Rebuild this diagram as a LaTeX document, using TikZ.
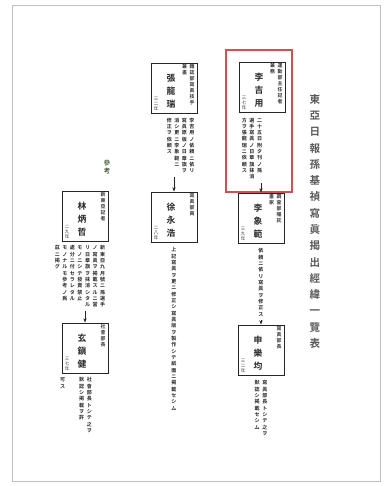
\documentclass[tikz,border=0pt]{standalone}
\usepackage{fontspec}
\setmainfont{Noto Sans CJK JP}[BoldFont={Noto Sans CJK JP Bold}]
\usetikzlibrary{positioning,arrows.meta}

% vertical column of characters, one per line
\def\vtloop#1{\ifx#1\relax\else\leavevmode#1\par\expandafter\vtloop\fi}
\newcommand\vcol[1]{\vtop{\hsize=1.5em\parindent=0pt\parskip=0pt%
  \leftskip=0pt plus 1fil\rightskip=0pt plus 1fil\parfillskip=0pt\vtloop#1\relax}}

\tikzset{
  pageframe/.style={draw=black!25, line width=0.7pt},
  hilite/.style={draw={rgb,255:red,214;green,78;blue,78}, line width=0.9pt},
  pbox/.style={draw=black!85, line width=0.8pt, minimum width=13.8mm, minimum height=15mm, inner sep=0pt},
  pname/.style={font=\fontsize{7.5}{11}\selectfont\bfseries, text=black!85, inner sep=0pt},
  prank/.style={font=\fontsize{4.2}{5}\selectfont\bfseries, text=black!80, inner sep=0pt, anchor=north east},
  pyear/.style={font=\fontsize{3.8}{4.6}\selectfont, text=black!80, inner sep=0pt, anchor=south west},
  pnote/.style={font=\fontsize{4.3}{5.4}\selectfont\bfseries, text=black!85, inner sep=0pt},
  ttl/.style={font=\fontsize{9}{13.9}\selectfont\bfseries, text=black!65, inner sep=0pt},
  sanko/.style={font=\fontsize{5.5}{7}\selectfont\bfseries, text={rgb,255:red,70;green,95;blue,60}, inner sep=0pt},
  link/.style={-{Stealth[length=1.3mm,width=1mm]}, line width=0.5pt, draw=black!85, shorten <=1mm},
}

\begin{document}
\begin{tikzpicture}[x=0.3mm, y=-0.3mm]
\useasboundingbox (0,0) rectangle (392,486);
\draw[pageframe] (12,5) rectangle (380,481);

% title
\node[ttl, anchor=north] (title) at (315,94) {\vcol{東亞日報孫基禎寫眞揭出經緯一覽表}};

% right line
\node[pbox] (kilyong) at (262,87) {};
\node[prank] (kilyongrank) at ([shift={(-1.5,2)}]kilyong.north east) {\vcol{兼務}\vcol{運動部主任記者}};
\node[pname] (kilyongname) at ([shift={(-3,3)}]kilyong.center) {\vcol{李吉用}};
\node[pyear] (kilyongage) at ([shift={(2,-2)}]kilyong.south west) {\vcol{三七年}};
\node[pnote, below=1.5mm of kilyong, xshift=-3mm] (kilyongnote)
  {\vcol{方ヲ張龍瑞ニ依頼ス}\vcol{選手寫眞ノ日章旗抹消}\vcol{二十五日附夕刊ノ孫}};
\draw[hilite] (226,50) rectangle (292,192);

\node[pbox] (sangbeom) at (261,218) {};
\node[prank] (sangbeomrank) at ([shift={(-1.5,2)}]sangbeom.north east) {\vcol{畫家}\vcol{調査部囑託}};
\node[pname] (sangbeomname) at ([shift={(-3,3)}]sangbeom.center) {\vcol{李象範}};
\node[pyear] (sangbeomage) at ([shift={(2,-2)}]sangbeom.south west) {\vcol{三九年}};
\node[pnote, below=1.5mm of sangbeom] (sangbeomnote) {\vcol{依頼ニ依リ寫眞ヲ修正ス}};

\node[pbox] (nakkyun) at (261,350) {};
\node[prank] (nakkyunrank) at ([shift={(-1.5,2)}]nakkyun.north east) {\vcol{寫眞部長}};
\node[pname] (nakkyunname) at ([shift={(-3,3)}]nakkyun.center) {\vcol{申樂均}};
\node[pyear] (nakkyunage) at ([shift={(2,-2)}]nakkyun.south west) {\vcol{三二年}};
\node[pnote, below=1.5mm of nakkyun] (nakkyunnote) {\vcol{默認シ掲載セシム}\vcol{寫眞部長トシテ之ヲ}};

\draw[link] (sangbeom.north |- kilyongnote.south) -- (sangbeom.north);
\draw[link] (nakkyun.north |- sangbeomnote.south) -- (nakkyun.north);

% middle line
\node[pbox] (yongseo) at (174,88) {};
\node[prank] (yongseorank) at ([shift={(-1.5,2)}]yongseo.north east) {\vcol{兼畫}\vcol{雜誌部寫眞技手}};
\node[pname] (yongseoname) at ([shift={(-3,3)}]yongseo.center) {\vcol{張龍瑞}};
\node[pyear] (yongseoage) at ([shift={(2,-2)}]yongseo.south west) {\vcol{三二年}};
\node[pnote, below=1.3mm of yongseo, xshift=2mm] (yongseonote)
  {\vcol{修正ヲ依頼ス}\vcol{消シ更ニ李象範ニ}\vcol{寫眞原版ノ日章旗ヲ}\vcol{李吉用ノ依頼ニ依リ}};

\node[pbox] (yongho) at (174,217) {};
\node[prank] (yonghorank) at ([shift={(-1.5,2)}]yongho.north east) {\vcol{寫眞部員}};
\node[pname] (yonghoname) at ([shift={(-3,3)}]yongho.center) {\vcol{徐永浩}};
\node[pyear] (yonghoage) at ([shift={(2,-2)}]yongho.south west) {\vcol{二八年}};
\node[pnote, below=1.5mm of yongho] (yonghonote) {\vcol{上記寫眞ヲ更ニ修正シ寫眞版ヲ製作シテ紙面ニ掲載セシム}};

\draw[link] (yongho.north |- yongseonote.south) -- (yongho.north);

% left line
\node[sanko, anchor=north] (sankolabel) at (107,160) {\vcol{參考}};

\node[pbox] (byungchul) at (85,216) {};
\node[prank] (byungchulrank) at ([shift={(-1.5,2)}]byungchul.north east) {\vcol{新東亞記者}};
\node[pname] (byungchulname) at ([shift={(-3,3)}]byungchul.center) {\vcol{林炳哲}};
\node[pyear] (byungchulage) at ([shift={(2,-2)}]byungchul.south west) {\vcol{二九年}};
\node[pnote, below=1.2mm of byungchul, xshift=-1.5mm] (byungchulnote)
  {\vcol{茲ニ掲グ}\vcol{モノナルモ參考ノ爲}\vcol{處分ニ付セラレタル}\vcol{モノニシテ發賣禁止}%
   \vcol{リ日章旗ヲ抹消シタル}\vcol{ノ寫眞ヲ掲載スルニ當}\vcol{新東亞九月號ニ孫選手}};

\node[pbox] (jingun) at (85,348) {};
\node[prank] (jingunrank) at ([shift={(-1.5,2)}]jingun.north east) {\vcol{社會部長}};
\node[pname] (jingunname) at ([shift={(-3,3)}]jingun.center) {\vcol{玄鎭健}};
\node[pyear] (jingunage) at ([shift={(2,-2)}]jingun.south west) {\vcol{三七年}};
\node[pnote, anchor=north west] (jingunnote) at ([shift={(-3,4)}]jingun.south west)
  {\vcol{可ス}\hskip 3.5mm\vcol{默認シ掲載ヲ許}\vcol{社會部長トシテ之ヲ}};

\draw[link] (jingun.north |- byungchulnote.south) -- (jingun.north);
\end{tikzpicture}
\end{document}
